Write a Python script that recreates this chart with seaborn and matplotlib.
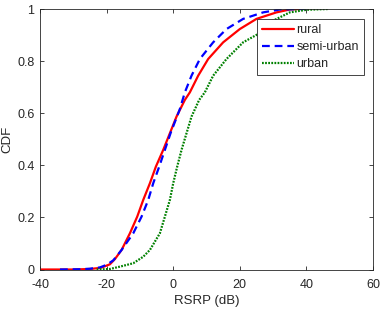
import numpy as np
import pandas as pd
import matplotlib
matplotlib.use("Agg")
import matplotlib.pyplot as plt
import seaborn as sns

# Data
rural_x = [-40, -30, -25, -22, -21, -19, -17.5, -15.5, -13, -10.8, -9, -7, -5.2, -3, -1, 1, 3.5, 5, 7.5, 10.5, 15, 20, 25, 31, 35, 38]
rural_y = [0.0, 0.0, 0.002, 0.006, 0.01, 0.02, 0.04, 0.075, 0.139, 0.203, 0.267, 0.331, 0.395, 0.459, 0.523, 0.587, 0.651, 0.68, 0.744, 0.808, 0.872, 0.923, 0.962, 0.987, 0.998, 1.0]

semi_x = [-34, -28, -25, -22, -20, -18, -15.5, -12, -9.5, -7.5, -6, -4.2, -2.5, -0.8, 2, 3.5, 5.5, 8, 12, 16, 21, 27, 32, 40]
semi_y = [0.0, 0.001, 0.003, 0.008, 0.018, 0.035, 0.075, 0.139, 0.203, 0.267, 0.331, 0.395, 0.459, 0.523, 0.616, 0.68, 0.744, 0.808, 0.872, 0.923, 0.962, 0.987, 0.998, 1.0]

urban_x = [-23, -19, -16, -12, -9, -7, -4, -2.5, -1, 0, 1.2, 2.5, 4, 5.5, 7.8, 9.5, 12, 16, 21, 25.5, 30, 35, 40, 46.5]
urban_y = [0.0, 0.002, 0.011, 0.024, 0.049, 0.075, 0.139, 0.203, 0.267, 0.331, 0.395, 0.459, 0.523, 0.587, 0.651, 0.68, 0.744, 0.808, 0.872, 0.904, 0.955, 0.987, 0.997, 1.0]

labels = ["rural", "semi-urban", "urban"]
x_ticks = [-40, -20, 0, 20, 40, 60]
y_ticks = [0, 0.2, 0.4, 0.6, 0.8, 1]
y_tick_labels = ["0", "0.2", "0.4", "0.6", "0.8", "1"]

sns.set_style("white")
plt.rcParams['font.family'] = ['Liberation Sans', 'DejaVu Sans']

fig = plt.figure(figsize=(3.82, 3.10), dpi=100)
ax = fig.add_axes([40/382, 1 - 269.5/310, (373-40)/382, (269.5-9)/310])

axcol = '#262626'
styles = [dict(color='#ff0000', linestyle='-', linewidth=1.6),
          dict(color='#0000ff', linestyle=(0, (3.5, 2.2)), linewidth=1.6),
          dict(color='#008000', linestyle=(0, (0.8, 0.6)), linewidth=1.6)]
series = [(rural_x, rural_y), (semi_x, semi_y), (urban_x, urban_y)]
for (xs, ys), lab, st in zip(series, labels, styles):
    df = pd.DataFrame({"x": xs, "y": ys})
    sns.lineplot(data=df, x="x", y="y", ax=ax, label=lab, **st)

ax.set_xlim(-40, 60)
ax.set_ylim(0, 1)
ax.set_xticks(x_ticks)
ax.set_xticklabels([str(t) for t in x_ticks])
ax.set_yticks(y_ticks)
ax.set_yticklabels(y_tick_labels)
ax.tick_params(direction='in', length=3, width=0.6, colors=axcol, labelsize=9,
               top=True, right=True, bottom=True, left=True)
ax.tick_params(axis='x', pad=7)
ax.tick_params(axis='y', pad=4)
for s in ax.spines.values():
    s.set_color(axcol)
    s.set_linewidth(0.6)
    s.set_visible(True)
ax.set_xlabel("RSRP (dB)", fontsize=9.5, color=axcol, labelpad=3)
ax.set_ylabel("CDF", fontsize=9.5, color=axcol, labelpad=3)

leg = ax.legend(loc='upper right', bbox_to_anchor=(0.973, 0.962), fontsize=9,
                frameon=True, fancybox=False, framealpha=1, edgecolor=axcol,
                handlelength=2.6, handletextpad=0.2, borderpad=0.4, labelspacing=0.4,
                borderaxespad=0)
leg.get_frame().set_linewidth(0.6)

fig.savefig("out.png", dpi=100)
